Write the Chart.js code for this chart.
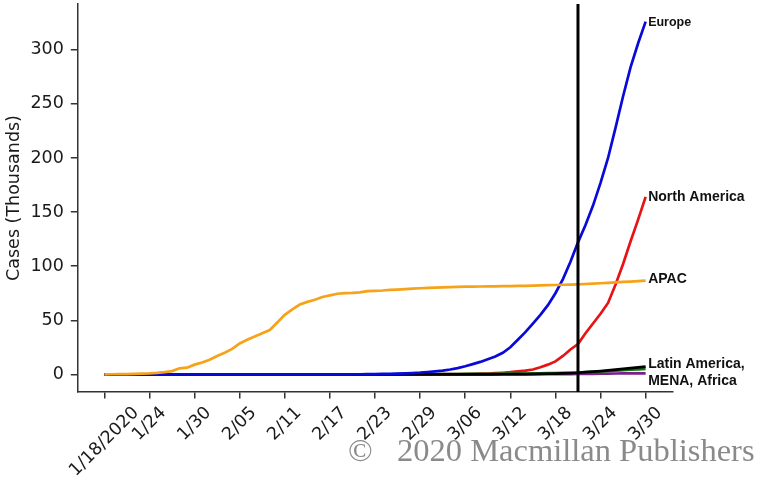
<!DOCTYPE html>
<html>
<head>
<meta charset="utf-8">
<script src="https://cdn.jsdelivr.net/npm/chart.js@4"></script>
<style>
  html, body { margin: 0; padding: 0; background: #fff; }
  #wrap { position: relative; width: 761px; height: 478px; }
  #wm { position: absolute; left: 348px; top: 434px; font-family: "Liberation Serif", "Times New Roman", serif; font-size: 32.5px; color: #8a8a8a; white-space: pre; line-height: 1; }
</style>
</head>
<body>
<div id="wrap">
  <canvas id="c" width="761" height="478"></canvas>
  <div id="wm">©   2020 Macmillan Publishers</div>
</div>
<script>
// Tick labels (one every 6 days from 1/18/2020)
const tickLabels = ["1/18/2020","1/24","1/30","2/05","2/11","2/17","2/23","2/29","3/06","3/12","3/18","3/24","3/30"];
const yTicks = [0, 50, 100, 150, 200, 250, 300];
const markerDay = 63; // 3/21

// Daily cumulative cases (thousands), 1/18 .. 3/30 (73 days)
const apac = [0.05,0.1,0.2,0.3,0.4,0.6,0.9,1.4,2.1,3.0,5.6,6.2,9.0,11,13.5,17,20,23.5,28.5,32,35,38,41,48,55,60,64.5,67,69,71.5,73,74.5,75,75.3,75.8,77,77.2,77.5,78,78.3,78.7,79.2,79.6,80,80.2,80.4,80.6,80.8,81,81.1,81.2,81.3,81.4,81.5,81.6,81.7,81.8,82,82.2,82.4,82.6,82.8,83,83.2,83.5,83.8,84.2,84.6,85,85.4,85.8,86.2,86.6];
const europe = [0,0,0,0,0,0,0,0,0,0,0,0,0,0,0,0,0,0,0.01,0.01,0.01,0.01,0.01,0.01,0.01,0.01,0.02,0.02,0.02,0.03,0.05,0.05,0.06,0.08,0.1,0.2,0.3,0.4,0.5,0.7,0.9,1.2,1.6,2.2,2.8,3.5,4.5,5.8,7.5,9.5,11.5,14,16.5,20,25,32,39,47,55,64,75,88,104,122,138,156,177,200,228,257,284,306,326];
const northAmerica = [0,0,0,0,0,0,0,0,0,0,0,0,0,0,0,0,0,0,0,0,0,0,0,0,0,0,0,0,0,0,0,0,0,0,0,0,0.01,0.02,0.03,0.04,0.05,0.07,0.08,0.1,0.12,0.15,0.2,0.25,0.3,0.4,0.6,0.8,1.1,1.5,2.0,2.7,3.5,4.5,6.5,9,12,17,23,28,38,47,56,66,83,102,123,143,164];
const latinAmerica = [0,0,0,0,0,0,0,0,0,0,0,0,0,0,0,0,0,0,0,0,0,0,0,0,0,0,0,0,0,0,0,0,0,0,0,0,0,0,0,0,0,0,0,0,0,0,0,0.01,0.02,0.03,0.04,0.05,0.07,0.1,0.12,0.15,0.2,0.3,0.4,0.55,0.7,0.9,1.2,1.5,2.0,2.5,3.0,3.6,4.3,5.0,5.8,6.5,7.2];
const mena = [0,0,0,0,0,0,0,0,0,0,0,0,0,0,0,0,0,0,0,0,0,0,0,0,0,0,0,0,0,0,0,0,0,0.02,0.04,0.06,0.08,0.1,0.12,0.14,0.16,0.18,0.2,0.22,0.25,0.28,0.3,0.33,0.36,0.4,0.45,0.5,0.55,0.6,0.65,0.7,0.8,0.9,1.0,1.1,1.2,1.35,1.5,1.7,2.0,2.3,2.7,3.1,3.5,3.9,4.3,4.7,5.1];
const africa = [0,0,0,0,0,0,0,0,0,0,0,0,0,0,0,0,0,0,0,0,0,0,0,0,0,0,0,0,0,0,0,0,0,0,0,0,0,0,0,0,0,0,0,0,0,0,0,0,0.01,0.02,0.02,0.03,0.03,0.04,0.05,0.06,0.08,0.1,0.12,0.15,0.2,0.25,0.3,0.35,0.4,0.5,0.6,0.7,0.8,0.85,0.9,0.95,1.0];

const seriesNames = ["APAC", "Europe", "Latin America", "MENA", "Africa", "North America"];
const seriesColors = ["#f5a31a", "#0a0ad8", "#000000", "#0f7a14", "#7a1f8c", "#e61414"];
const seriesValues = [apac, europe, latinAmerica, mena, africa, northAmerica];

const toXY = arr => arr.map((v, i) => ({ x: i, y: v }));

const datasets = seriesNames.map((n, k) => ({
  label: n,
  data: toXY(seriesValues[k]),
  borderColor: seriesColors[k],
  backgroundColor: seriesColors[k],
  borderWidth: 2.7,
  pointRadius: 0,
  tension: 0,
  fill: false
}));

const endLabels = [
  { series: 1, lines: ["Europe"], size: 12.5, dy: 1 },
  { series: 5, lines: ["North America"], size: 14, dy: 0 },
  { series: 0, lines: ["APAC"], size: 14, dy: -2 },
  { series: 2, lines: ["Latin America,", "MENA, Africa"], size: 14, dy: 6 }
];

const TICK_FONT = 17.5;

const overlay = {
  id: 'overlay',
  afterDatasetsDraw(chart) {
    const ctx = chart.ctx;
    const xs = chart.scales.x, ys = chart.scales.y, ca = chart.chartArea;
    // vertical marker line
    const vx = xs.getPixelForValue(markerDay);
    ctx.save();
    ctx.strokeStyle = '#000';
    ctx.lineWidth = 3;
    ctx.beginPath();
    ctx.moveTo(vx, ca.top);
    ctx.lineTo(vx, ca.bottom);
    ctx.stroke();
    // end labels
    ctx.fillStyle = '#111';
    ctx.textAlign = 'left';
    ctx.textBaseline = 'middle';
    endLabels.forEach(l => {
      const vals = seriesValues[l.series];
      const last = vals.length - 1;
      const px = xs.getPixelForValue(last) + 2.5;
      const py = ys.getPixelForValue(vals[last]) + l.dy;
      ctx.font = 'bold ' + l.size + 'px "Liberation Sans", Arial, sans-serif';
      const lh = 17;
      const y0 = py - (l.lines.length - 1) * lh / 2;
      l.lines.forEach((t, i) => ctx.fillText(t, px, y0 + i * lh));
    });
    // x tick labels, rotated 45 deg and centred on their tick
    ctx.font = TICK_FONT + 'px "DejaVu Sans", sans-serif';
    ctx.fillStyle = '#1a1a1a';
    ctx.textAlign = 'center';
    ctx.textBaseline = 'middle';
    xs.ticks.forEach((t, i) => {
      const label = tickLabels[i];
      const tx = xs.getPixelForValue(t.value);
      const L = ctx.measureText(label).width;
      const side = (L + TICK_FONT * 0.98) * Math.SQRT1_2;
      const cy = ca.bottom + 12 + side / 2;
      ctx.save();
      ctx.translate(tx, cy);
      ctx.rotate(-Math.PI / 4);
      ctx.fillText(label, 0, 0);
      ctx.restore();
    });
    ctx.restore();
  }
};

new Chart(document.getElementById('c'), {
  type: 'line',
  data: { datasets },
  options: {
    responsive: false,
    animation: false,
    devicePixelRatio: 1,
    layout: { padding: { left: 0, right: 88.3, top: 4, bottom: 0 } },
    plugins: { legend: { display: false }, tooltip: { enabled: false } },
    scales: {
      x: {
        type: 'linear',
        min: -3.6,
        max: 75.6,
        afterBuildTicks: s => { s.ticks = tickLabels.map((t, i) => ({ value: i * 6 })); },
        afterFit: s => { s.height = 86; s.paddingLeft = 0; s.paddingRight = 0; },
        ticks: {
          display: false,
          autoSkip: false
        },
        grid: { drawOnChartArea: false, drawTicks: true, tickLength: 6.5, color: '#333', lineWidth: 1.5 },
        border: { display: true, color: '#333', width: 1.5 }
      },
      y: {
        type: 'linear',
        min: -16.3,
        max: 342.3,
        afterBuildTicks: s => { s.ticks = yTicks.map(v => ({ value: v })); },
        afterFit: s => { s.width = 77.3; s.paddingTop = 0; s.paddingBottom = 0; },
        title: {
          display: true,
          text: 'Cases (Thousands)',
          color: '#1a1a1a',
          font: { family: '"DejaVu Sans", sans-serif', size: 17.5 },
          padding: { top: 4, bottom: 0 }
        },
        ticks: {
          padding: 7,
          color: '#1a1a1a',
          font: { family: '"DejaVu Sans", sans-serif', size: TICK_FONT }
        },
        grid: { drawOnChartArea: false, drawTicks: true, tickLength: 6.5, color: '#333', lineWidth: 1.5 },
        border: { display: true, color: '#333', width: 1.5 }
      }
    }
  },
  plugins: [overlay]
});
</script>
</body>
</html>
